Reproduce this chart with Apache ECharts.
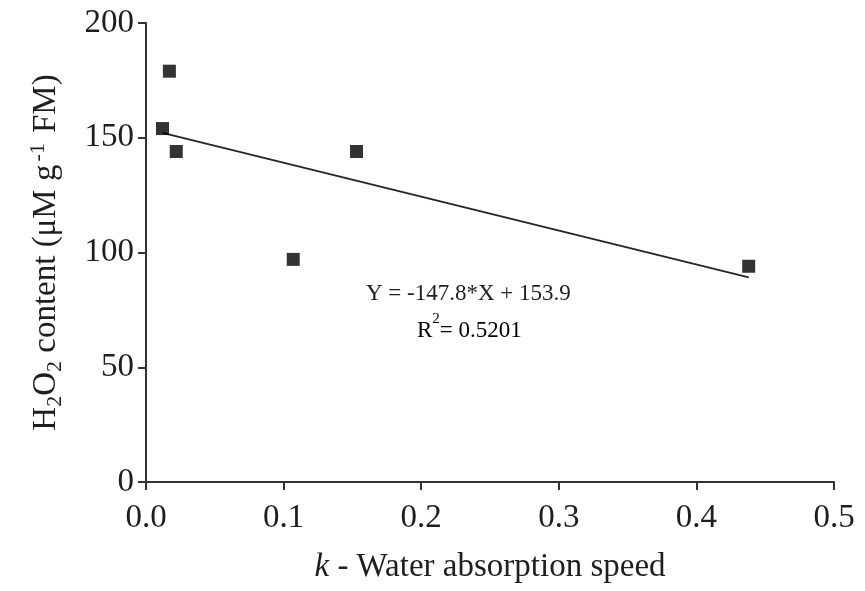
<!DOCTYPE html>
<html>
<head>
<meta charset="utf-8">
<script src="https://cdn.jsdelivr.net/npm/echarts@6/dist/echarts.min.js"></script>
<style>
  html, body { margin: 0; padding: 0; background: #fff; }
  #chart { width: 865px; height: 591px; }
</style>
</head>
<body>
<div id="chart"></div>
<script>
// Water absorption speed (k) vs H2O2 content per sample
const kValues = [0.017, 0.012, 0.022, 0.107, 0.153, 0.438];
const h2o2Values = [179, 154, 144, 97, 144, 94];

// Linear fit reported on the chart
const fitSlope = -147.8;
const fitIntercept = 153.9;
const fitR2 = '0.5201';

const xTicks = [0, 0.1, 0.2, 0.3, 0.4, 0.5];
const yTicks = [0, 50, 100, 150, 200];

const ink = '#1e1e1e';
const serif = '"Liberation Serif", "DejaVu Serif", serif';

const points = kValues.map((k, i) => [k, h2o2Values[i]]);
const fitStart = Math.min(...kValues);
const fitEnd = Math.max(...kValues);
const fitLine = [fitStart, fitEnd].map(x => [x, fitSlope * x + fitIntercept]);

const chart = echarts.init(document.getElementById('chart'), null, { renderer: 'canvas' });

chart.setOption({
  animation: false,
  backgroundColor: '#fff',
  grid: { left: 146, right: 31, top: 23, bottom: 109, containLabel: false },
  xAxis: {
    type: 'value',
    min: xTicks[0],
    max: xTicks[xTicks.length - 1],
    interval: 0.1,
    splitLine: { show: false },
    axisLine: { onZero: false, lineStyle: { color: '#333', width: 2 } },
    axisTick: { show: true, length: 8, lineStyle: { color: '#333', width: 2 } },
    axisLabel: {
      margin: 20, color: ink, fontFamily: serif, fontSize: 33,
      formatter: v => v.toFixed(1)
    },
    name: '{i|k}{n| - Water absorption speed}',
    nameLocation: 'middle',
    nameGap: 69,
    nameTextStyle: {
      rich: {
        i: { fontFamily: serif, fontSize: 33, fontStyle: 'italic', color: ink },
        n: { fontFamily: serif, fontSize: 33, color: ink }
      }
    }
  },
  yAxis: {
    type: 'value',
    min: yTicks[0],
    max: yTicks[yTicks.length - 1],
    interval: 50,
    splitLine: { show: false },
    axisLine: { show: true, onZero: false, lineStyle: { color: '#333', width: 2 } },
    axisTick: { show: true, length: 8, lineStyle: { color: '#333', width: 2 } },
    axisLabel: { margin: 12, color: ink, fontFamily: serif, fontSize: 33 },
    name: '{n|H}{sub|2}{n|O}{sub|2}{n| content (μM g}{sup|-1}{n| FM)}',
    nameLocation: 'middle',
    nameRotate: 90,
    nameGap: 78,
    nameTextStyle: {
      rich: {
        n: { fontFamily: serif, fontSize: 33, color: ink, lineHeight: 44, verticalAlign: 'middle' },
        sub: { fontFamily: serif, fontSize: 22, color: ink, lineHeight: 44, verticalAlign: 'bottom', padding: [0, 0, 2, 0] },
        sup: { fontFamily: serif, fontSize: 22, color: ink, lineHeight: 44, verticalAlign: 'top', padding: [3, 2, 0, 3] }
      }
    }
  },
  series: [
    {
      type: 'line',
      data: fitLine,
      symbol: 'none',
      lineStyle: { color: '#262626', width: 2 },
      z: 2
    },
    {
      type: 'scatter',
      data: points,
      symbol: 'rect',
      symbolSize: 13,
      itemStyle: { color: '#000' },
      z: 3
    }
  ],
  graphic: [
    {
      type: 'text',
      left: 366,
      top: 282,
      style: {
        text: 'Y = ' + fitSlope + '*X + ' + fitIntercept,
        fill: ink,
        font: '23px ' + serif
      }
    },
    {
      type: 'text',
      left: 417,
      top: 312,
      style: {
        text: '{n|R}{sup|2}{n|= ' + fitR2 + '}',
        rich: {
          n: { fontFamily: serif, fontSize: 23, color: ink, lineHeight: 30, verticalAlign: 'bottom' },
          sup: { fontFamily: serif, fontSize: 15, color: ink, lineHeight: 30, verticalAlign: 'top' }
        }
      }
    }
  ]
});
</script>
</body>
</html>
